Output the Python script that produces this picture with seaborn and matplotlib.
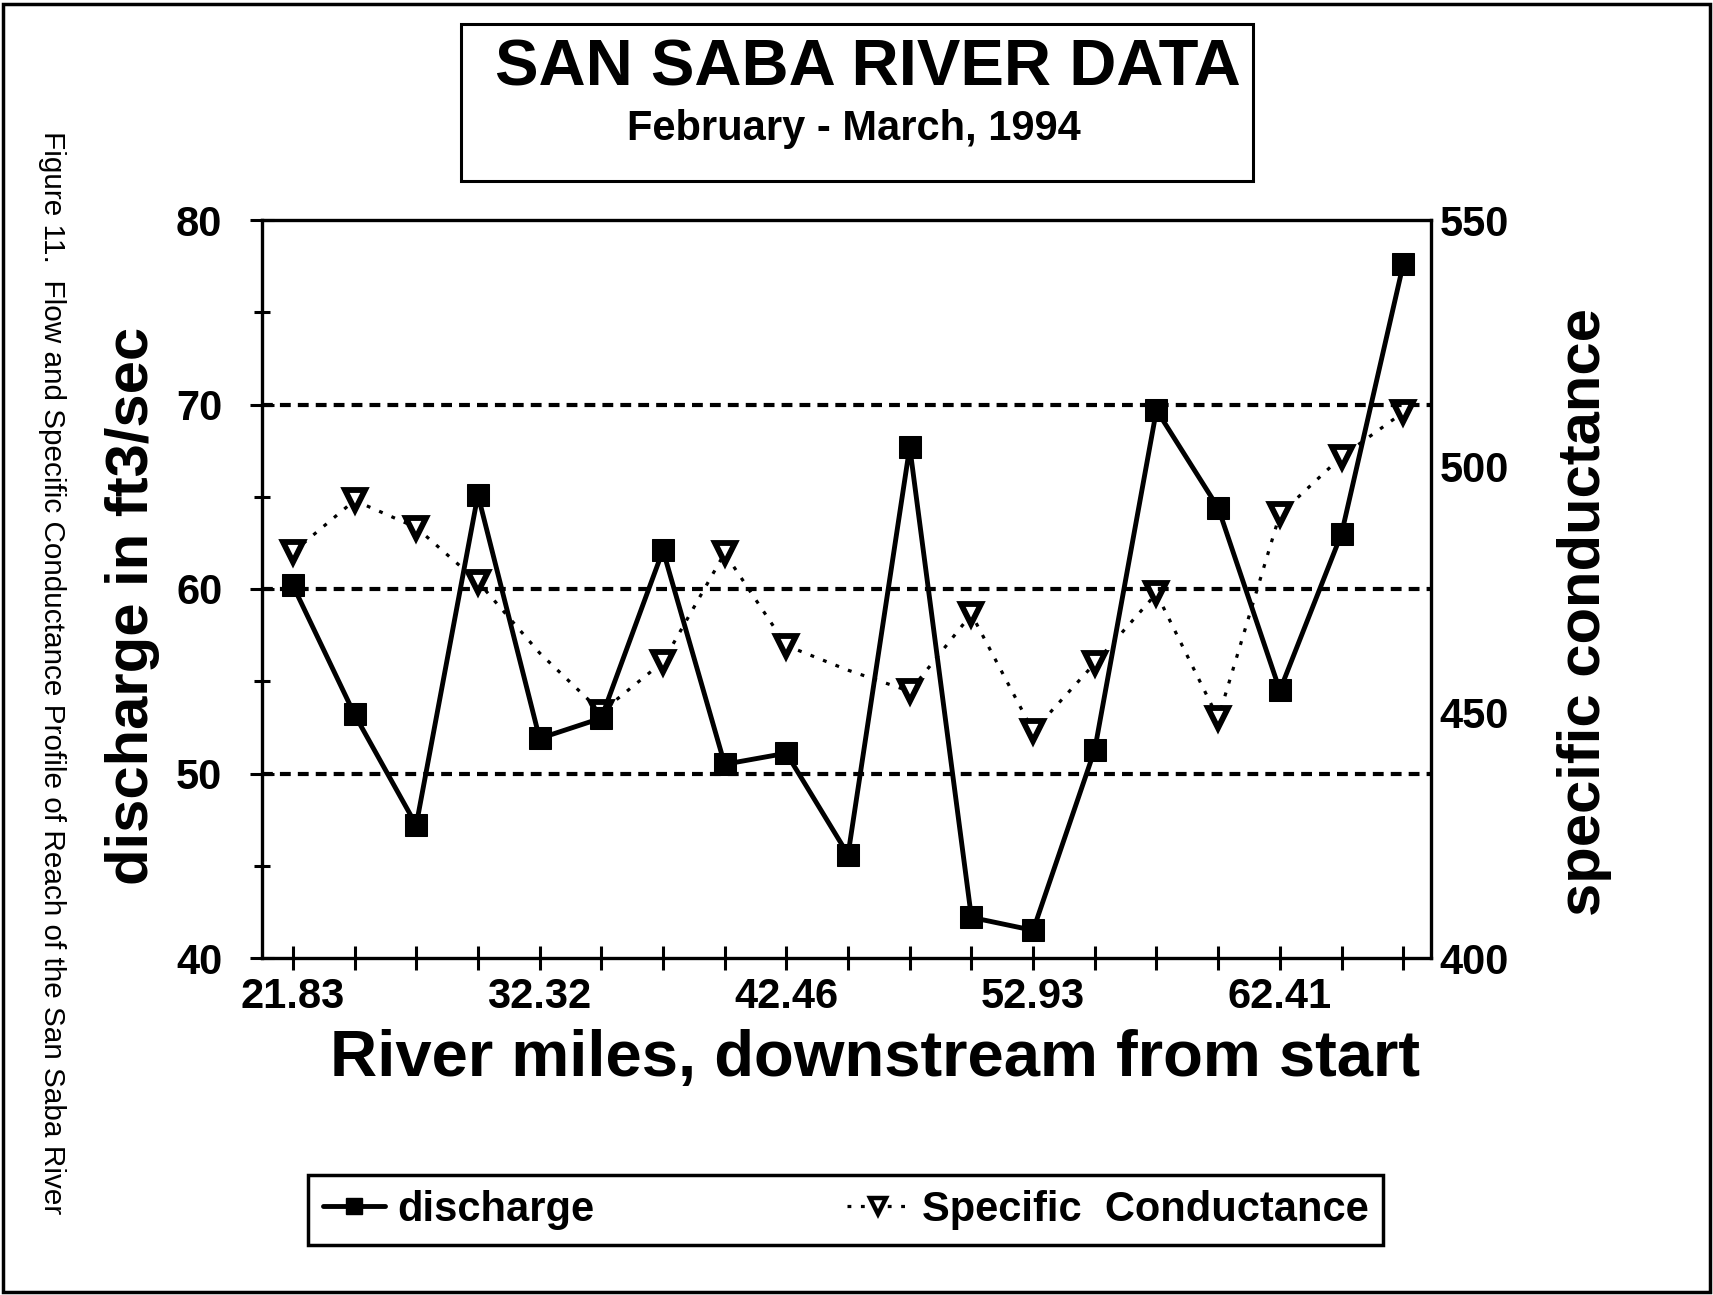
import numpy as np
import pandas as pd
import matplotlib
matplotlib.use("Agg")
import matplotlib.pyplot as plt
import seaborn as sns
from matplotlib.lines import Line2D
from matplotlib.patches import Rectangle
from matplotlib.ticker import MultipleLocator

# ---------------- data ----------------
positions = list(range(19))
tick_labels = ["21.83", "", "", "", "32.32", "", "", "", "42.46", "", "", "",
               "52.93", "", "", "", "62.41", "", ""]
discharge = [60.2, 53.2, 47.2, 65.1, 51.9, 53.0, 62.1, 50.5, 51.1, 45.6,
             67.7, 42.2, 41.5, 51.3, 69.7, 64.4, 54.5, 63.0, 77.6]
conductance = [482.5, 493.0, 487.5, 476.5, 462.0, 450.0, 460.2, 482.3, 463.5, 458.5,
               454.2, 469.9, 446.1, 459.9, 474.1, 448.7, 490.2, 501.9, 510.9]
hidden_cond_markers = [4, 9]

title = "SAN SABA RIVER DATA"
subtitle = "February - March, 1994"
xlabel = "River miles, downstream from start"
ylabel_left = "discharge in ft3/sec"
ylabel_right = "specific conductance"
caption = "Figure 11.  Flow and Specific Conductance Profile of Reach of the San Saba River"
legend_labels = ["discharge", "Specific  Conductance"]

df = pd.DataFrame({"pos": positions, "discharge": discharge, "cond": conductance})

# ---------------- style ----------------
sns.set_theme(style="white")
plt.rcParams["font.family"] = ["Liberation Sans", "DejaVu Sans"]
plt.rcParams["font.weight"] = "bold"
plt.rcParams["text.color"] = "black"
plt.rcParams["axes.labelcolor"] = "black"
plt.rcParams["xtick.color"] = "black"
plt.rcParams["ytick.color"] = "black"

W, H = 1713, 1295
fig = plt.figure(figsize=(W / 100, H / 100), dpi=100)
fig.patch.set_facecolor("white")

ax = fig.add_axes([262 / W, 1 - 958 / H, (1431 - 262) / W, (958 - 220) / H])
ax2 = ax.twinx()

# conductance (right axis)
mark_idx = [i for i in positions if i not in hidden_cond_markers]
sns.lineplot(data=df, x="pos", y="cond", ax=ax2, color="black", lw=2.3,
             linestyle=(0, (1.2, 3.0)), marker="v", markersize=14.5,
             markerfacecolor="white", markeredgecolor="black", markeredgewidth=4.2,
             markevery=mark_idx, legend=False)

# discharge (left axis)
sns.lineplot(data=df, x="pos", y="discharge", ax=ax, color="black", lw=3.5,
             marker="s", markersize=15.5, markeredgecolor="black",
             markerfacecolor="black", legend=False)

ax.set_zorder(ax2.get_zorder() + 1)
ax.patch.set_visible(False)

ax.set_xlim(-0.5, 18.45)
ax.set_ylim(40, 80)
ax2.set_ylim(400, 550)

ax.yaxis.set_major_locator(MultipleLocator(10))
ax.yaxis.set_minor_locator(MultipleLocator(5))
ax2.yaxis.set_major_locator(MultipleLocator(50))
ax.set_xticks(positions)
ax.set_xticklabels(tick_labels)

ax.grid(axis="y", which="major", color="black", lw=3.0, linestyle=(0, (2.6, 1.7)))
ax.grid(axis="x", visible=False)
ax2.grid(False)

for s in ax.spines.values():
    s.set_visible(True)
    s.set_color("black")
    s.set_linewidth(2.4)
for s in ax2.spines.values():
    s.set_visible(False)

ax.tick_params(axis="y", which="major", direction="inout", length=17, width=2.2,
               labelsize=30, pad=20, color="black", labelcolor="black", left=True, right=False)
ax.tick_params(axis="y", which="minor", direction="inout", length=11, width=2.2,
               color="black", left=True, right=False)
ax.tick_params(axis="x", which="major", direction="inout", length=17, width=2.2,
               labelsize=30, pad=5, color="black", labelcolor="black", bottom=True, top=False)
ax2.tick_params(axis="y", which="both", length=0, labelsize=30, pad=6, labelcolor="black")
for lab in ax.get_xticklabels() + ax.get_yticklabels() + ax2.get_yticklabels():
    lab.set_fontweight("bold")
    lab.set_color("black")

ax.set_xlabel("")
ax.set_ylabel("")
ax2.set_ylabel("")

# keep dotted grid only inside the frame (not on top of the 40 / 80 spines)
fig.canvas.draw()
for tick in ax.yaxis.get_major_ticks():
    if tick.get_loc() in (40, 80):
        tick.gridline.set_visible(False)

# axis titles
fig.text(875 / W, 1 - 1076 / H, xlabel, ha="center", va="baseline",
         fontsize=47, fontweight="bold", color="black")
fig.text(133 / W, 1 - 606 / H, ylabel_left, ha="center", va="center",
         rotation=90, fontsize=43, fontweight="bold", color="black")
fig.text(1584 / W, 1 - 612 / H, ylabel_right, ha="center", va="center",
         rotation=90, fontsize=43, fontweight="bold", color="black")

# title box
fig.patches.append(Rectangle((461 / W, 1 - 181 / H), (1253 - 461) / W, (181 - 24) / H,
                             transform=fig.transFigure, fill=False, ec="black", lw=2.2))
fig.text(868 / W, 1 - 85 / H, title, ha="center", va="baseline",
         fontsize=47, fontweight="bold", color="black")
fig.text(854 / W, 1 - 140 / H, subtitle, ha="center", va="baseline",
         fontsize=30, fontweight="bold", color="black")

# caption
fig.text(52 / W, 1 - 673 / H, caption, ha="center", va="center", rotation=270,
         fontsize=21.4, fontweight="normal", color="black")

# outer frame
fig.patches.append(Rectangle((3 / W, 3 / H), (W - 6) / W, (H - 7) / H,
                             transform=fig.transFigure, fill=False, ec="black", lw=2.5))

# legend
handles = [
    Line2D([], [], color="black", lw=3.5, marker="s", markersize=11),
    Line2D([], [], color="black", lw=2.3, linestyle=(0, (1.2, 3.0)), marker="v",
           markersize=11, markerfacecolor="white", markeredgewidth=3.2),
]
leg = fig.legend(handles, legend_labels, loc="center", ncol=2, mode="expand",
                 bbox_to_anchor=(308 / W, 1 - 1249 / H, (1383 - 308) / W, 78 / H),
                 prop={"size": 30, "weight": "bold"}, frameon=True, fancybox=False,
                 handlelength=1.5, handletextpad=0.3, borderpad=0.35,
                 borderaxespad=0.0)
leg.get_frame().set_edgecolor("black")
leg.get_frame().set_linewidth(2.5)
leg.get_frame().set_alpha(1)
for t in leg.get_texts():
    t.set_color("black")

fig.savefig("out.png", dpi=100)
